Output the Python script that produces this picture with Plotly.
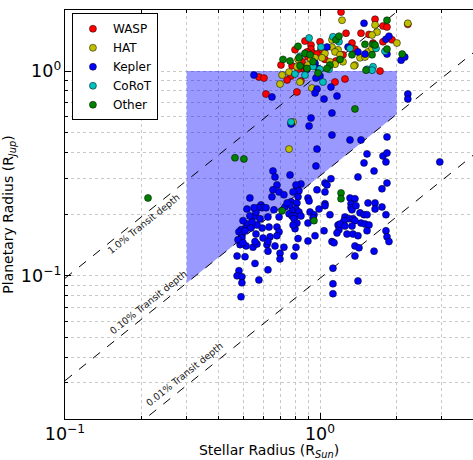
import math
import plotly.graph_objects as go

# ---------------- data (stellar radius [R_sun], planet radius [R_jup]) ----------------
wasp_rs = [1.209, 1.265, 1.00, 0.873, 0.798, 0.922, 0.922, 0.889, 0.939, 0.897, 1.009, 0.973,
           1.046, 0.703, 0.777, 0.850, 0.858, 0.820, 1.155, 1.231, 1.335, 1.448, 1.557, 1.614,
           1.371, 1.145, 1.253, 0.576, 0.603, 0.770, 0.743, 0.842, 1.644, 1.766, 1.831, 1.766,
           1.916, 1.719, 0.614, 0.812, 2.21]
wasp_rp = [1.94, 1.53, 1.39, 1.40, 1.27, 1.34, 1.28, 1.24, 1.22, 1.17, 1.27, 1.21,
           1.14, 1.07, 1.06, 1.11, 1.03, 1.02, 1.12, 1.20, 1.37, 1.53, 1.51, 1.37,
           1.28, 0.884, 0.914, 0.935, 0.924, 0.945, 0.904, 0.894, 1.79, 1.66, 1.64, 1.39,
           1.42, 1.00, 0.772, 0.790, 1.69]

hat_rs = [1.220, 1.114, 1.114, 1.177, 1.145, 1.198, 1.046, 0.956, 1.018, 1.094, 1.145, 1.231,
          1.371, 1.435, 1.501, 1.543, 1.614, 1.674, 1.644, 0.922, 0.897, 0.820, 0.812, 0.710,
          0.756, 0.835, 1.600, 1.600, 2.003, 2.21, 0.697, 0.930, 0.756, 0.784, 1.359]
hat_rp = [1.77, 1.42, 1.31, 1.27, 1.24, 1.20, 1.22, 1.16, 1.16, 1.11, 1.08, 1.11,
          1.07, 1.16, 1.17, 1.24, 1.28, 1.55, 1.68, 1.14, 1.07, 1.14, 1.05, 0.956,
          0.989, 0.884, 1.50, 1.29, 1.37, 1.71, 0.864, 0.826, 0.416, 0.564, 1.06]

kepler_rs = [0.551, 1.00, 1.488, 1.814, 1.864, 1.831, 2.08, 2.15, 1.409, 1.501, 1.288, 1.065,
             0.956, 0.982, 0.889, 0.964, 2.21, 2.21,
             0.648, 0.770, 0.906, 0.922, 1.114, 1.037, 1.104, 1.166, 0.973, 0.956, 1.114, 1.311,
             1.448, 1.831, 0.973, 1.529, 0.964, 0.654,
             1.766, 1.831, 1.488, 1.814, 0.763, 0.666, 1.629, 1.409, 1.104, 1.831, 0.842, 0.812,
             0.678, 0.654, 0.691, 1.046, 1.065, 0.973, 0.722, 0.648, 1.046, 1.750, 0.531, 0.827,
             0.820, 0.770, 0.897, 0.906, 1.046, 1.046, 1.311, 1.371, 1.323, 1.543, 1.644, 1.644,
             1.750, 0.587, 0.593, 0.571, 0.517, 0.660, 0.729, 0.812, 0.805, 0.827, 0.777, 0.756,
             0.777, 0.798, 0.842, 0.914, 0.947, 0.991, 1.094, 1.323, 1.335, 1.253, 1.299, 1.347,
             1.371, 1.435, 1.488, 1.529, 1.448, 1.501, 1.557, 1.814, 1.242, 1.177, 1.187, 0.897,
             0.791, 0.798, 0.691, 0.678, 0.631, 0.625, 0.593, 0.566, 0.556, 0.531, 0.517, 0.508,
             0.490, 0.481, 0.494, 0.494, 0.561, 0.637, 0.691, 0.820, 0.897, 0.956, 1.037, 1.114,
             1.135, 1.276, 1.347, 1.409, 1.529, 1.814, 1.831, 1.864, 1.629, 1.371, 1.422, 1.371,
             1.124, 0.486, 0.477, 0.513, 0.546, 0.566, 0.620, 0.666, 0.722, 0.805, 0.473, 0.508,
             0.697, 0.697, 0.791, 0.556, 0.625, 0.481, 0.473, 0.494, 0.494, 0.576, 1.124, 1.124,
             1.409, 0.490, 2.95,
             0.812, 0.763, 0.743, 0.784, 0.614, 0.582, 0.541, 0.536, 0.508, 0.499, 0.556, 0.598,
             0.625, 0.678, 0.561, 0.551, 0.499, 0.625, 0.805, 1.384, 1.198, 1.253, 1.335, 0.939,
             0.784, 1.166]
kepler_rp = [0.956, 0.945, 1.71, 1.43, 1.48, 1.21, 1.13, 1.17, 1.24, 1.21, 1.31, 1.31,
             1.09, 1.03, 1.02, 0.924, 0.772, 0.730,
             0.747, 0.551, 0.539, 0.590, 0.624, 0.730, 0.835, 0.755, 0.817, 0.781, 0.487, 0.461,
             0.461, 0.477, 0.416, 0.394, 0.344, 0.325,
             0.385, 0.398, 0.356, 0.360, 0.311, 0.304, 0.325, 0.304, 0.298, 0.284, 0.281, 0.272,
             0.278, 0.263, 0.257, 0.284, 0.278, 0.263, 0.249, 0.243, 0.257, 0.266, 0.240, 0.260,
             0.243, 0.230, 0.240, 0.232, 0.225, 0.220, 0.240, 0.238, 0.225, 0.227, 0.227, 0.212,
             0.217, 0.222, 0.215, 0.215, 0.212, 0.210, 0.217, 0.227, 0.212, 0.205, 0.208, 0.201,
             0.196, 0.196, 0.196, 0.205, 0.199, 0.212, 0.199, 0.215, 0.210, 0.194, 0.190, 0.190,
             0.186, 0.203, 0.199, 0.199, 0.181, 0.179, 0.177, 0.199, 0.186, 0.177, 0.168, 0.181,
             0.190, 0.170, 0.194, 0.173, 0.173, 0.194, 0.171, 0.177, 0.196, 0.196, 0.179, 0.170,
             0.168, 0.164, 0.158, 0.153, 0.160, 0.155, 0.164, 0.152, 0.148, 0.157, 0.166, 0.147,
             0.145, 0.160, 0.160, 0.157, 0.166, 0.166, 0.155, 0.147, 0.132, 0.140, 0.137, 0.125,
             0.109, 0.142, 0.150, 0.140, 0.138, 0.143, 0.142, 0.140, 0.138, 0.138, 0.125, 0.124,
             0.129, 0.121, 0.125, 0.115, 0.107, 0.106, 0.100, 0.099, 0.0925, 0.0955, 0.0915, 0.0818,
             0.0945, 0.079, 0.360,
             0.181, 0.222, 0.227, 0.257, 0.215, 0.190, 0.183, 0.171, 0.166, 0.145, 0.147, 0.153,
             0.147, 0.157, 0.205, 0.215, 0.186, 0.132, 0.278, 0.220, 0.179, 0.175, 0.175, 0.192,
             0.177, 0.162]

corot_rs = [1.187, 1.124, 0.906, 1.009, 0.835, 0.939, 1.085, 1.00, 1.311, 1.614, 1.529, 0.798,
            0.873, 1.027, 1.659, 1.798, 1.600, 0.770]
corot_rp = [1.39, 1.47, 1.45, 1.31, 1.18, 1.05, 1.02, 1.02, 1.29, 1.05, 1.02, 0.967,
            0.956, 0.884, 1.29, 1.25, 1.01, 0.564]

other_rs = [0.2116, 0.464, 0.503, 1.209, 1.209, 0.710, 0.947, 1.371, 0.820, 0.716, 0.763, 0.827,
            1.155, 1.187, 0.873, 0.914, 1.094, 1.198, 1.335, 1.501, 1.614, 0.939, 0.982, 1.065,
            0.835, 0.889, 1.515, 1.831, 1.644, 1.831, 1.600, 2.10]
other_rp = [0.240, 0.377, 0.372, 0.254, 0.238, 0.208, 0.186, 0.653, 1.32, 1.14, 1.12, 1.16,
            1.42, 1.48, 1.22, 1.20, 1.07, 1.14, 1.20, 1.35, 1.35, 1.11, 0.978, 1.03,
            1.06, 1.03, 1.01, 1.77, 1.34, 1.28, 1.20, 1.21]

transit_depths = [0.01, 0.001, 0.0001]          # fractional depth
depth_labels = ["1.0% Transit depth", "0.10% Transit depth", "0.01% Transit depth"]
label_rs = [0.204, 0.2116, 0.293]
label_rp = [0.1795, 0.0738, 0.0329]

region_rs = [0.3, 2.0]          # stellar radius range of shaded region
region_rp_max = 1.0             # planet radius upper bound
region_depth = 0.001            # lower bound follows this transit depth

RSUN_RJUP = 695700.0 / 71492.0

def rp_for_depth(rs, depth):
    return rs * math.sqrt(depth) * RSUN_RJUP

fig = go.Figure()

# shaded region
fig.add_trace(go.Scatter(
    x=[region_rs[0], region_rs[1], region_rs[1], region_rs[0]],
    y=[region_rp_max, region_rp_max,
       rp_for_depth(region_rs[1], region_depth), rp_for_depth(region_rs[0], region_depth)],
    fill="toself", fillcolor="rgba(0,0,255,0.4)", mode="lines",
    line=dict(width=0), showlegend=False, hoverinfo="skip"))

# transit-depth lines
line_rs = [0.1, 4.0]
for d in transit_depths:
    fig.add_trace(go.Scatter(
        x=line_rs, y=[rp_for_depth(v, d) for v in line_rs], mode="lines",
        line=dict(color="black", width=1, dash="dash"), showlegend=False, hoverinfo="skip"))

series = [("WASP", wasp_rs, wasp_rp, "#ff0000"),
          ("HAT", hat_rs, hat_rp, "#bfbf00"),
          ("Kepler", kepler_rs, kepler_rp, "#0000ff"),
          ("CoRoT", corot_rs, corot_rp, "#00bfbf"),
          ("Other", other_rs, other_rp, "#008000")]
for name, xs, ys, col in series:
    fig.add_trace(go.Scatter(
        x=xs, y=ys, mode="markers", name=name,
        marker=dict(color=col, size=7, line=dict(color="#000000", width=0.5))))

ang = -math.degrees(math.atan(204.8 / 255.0))
for txt, lx, ly in zip(depth_labels, label_rs, label_rp):
    fig.add_annotation(x=math.log10(lx), y=math.log10(ly), text=txt, showarrow=False,
                       textangle=ang, font=dict(size=9.5, color="#222222", family="DejaVu Sans"))

grid = dict(showgrid=True, gridcolor="#c8c8c8", griddash="dot", gridwidth=1)
axis_common = dict(type="log", dtick=1, exponentformat="power", labelalias={"1": "10<sup>0</sup>"},
                   ticks="inside", ticklen=6, tickcolor="#000", showline=True, linecolor="#000",
                   linewidth=1, zeroline=False,
                   tickfont=dict(size=14, color="#000", family="DejaVu Sans"),
                   minor=dict(dtick="D1", ticks="inside", ticklen=3, tickcolor="#000", **grid),
                   **grid)

fig.update_layout(
    width=473, height=460,
    margin=dict(l=65, r=0, t=10, b=41),
    paper_bgcolor="white", plot_bgcolor="white",
    font=dict(family="DejaVu Sans", color="#000"),
    xaxis=dict(range=[-1, 0.6], mirror="ticks",
               title=dict(text="Stellar Radius (R<sub><i>Sun</i></sub>)", font=dict(size=14), standoff=6),
               **axis_common),
    yaxis=dict(range=[math.log10(0.02), 0.298], mirror=False,
               title=dict(text="Planetary Radius (R<sub><i>Jup</i></sub>)", font=dict(size=14), standoff=10),
               **axis_common),
    legend=dict(x=0.017, y=0.992, xanchor="left", yanchor="top", bgcolor="white",
                bordercolor="#000", borderwidth=1, font=dict(size=12), tracegroupgap=0,
                itemwidth=30),
    showlegend=True,
)

page_fix = ("document.body.style.margin='0';document.body.style.padding='0';"
            "document.body.style.overflow='hidden';"
            "document.documentElement.style.overflow='hidden';")
fig.write_html("out.html", post_script=page_fix, config={"displayModeBar": False})
